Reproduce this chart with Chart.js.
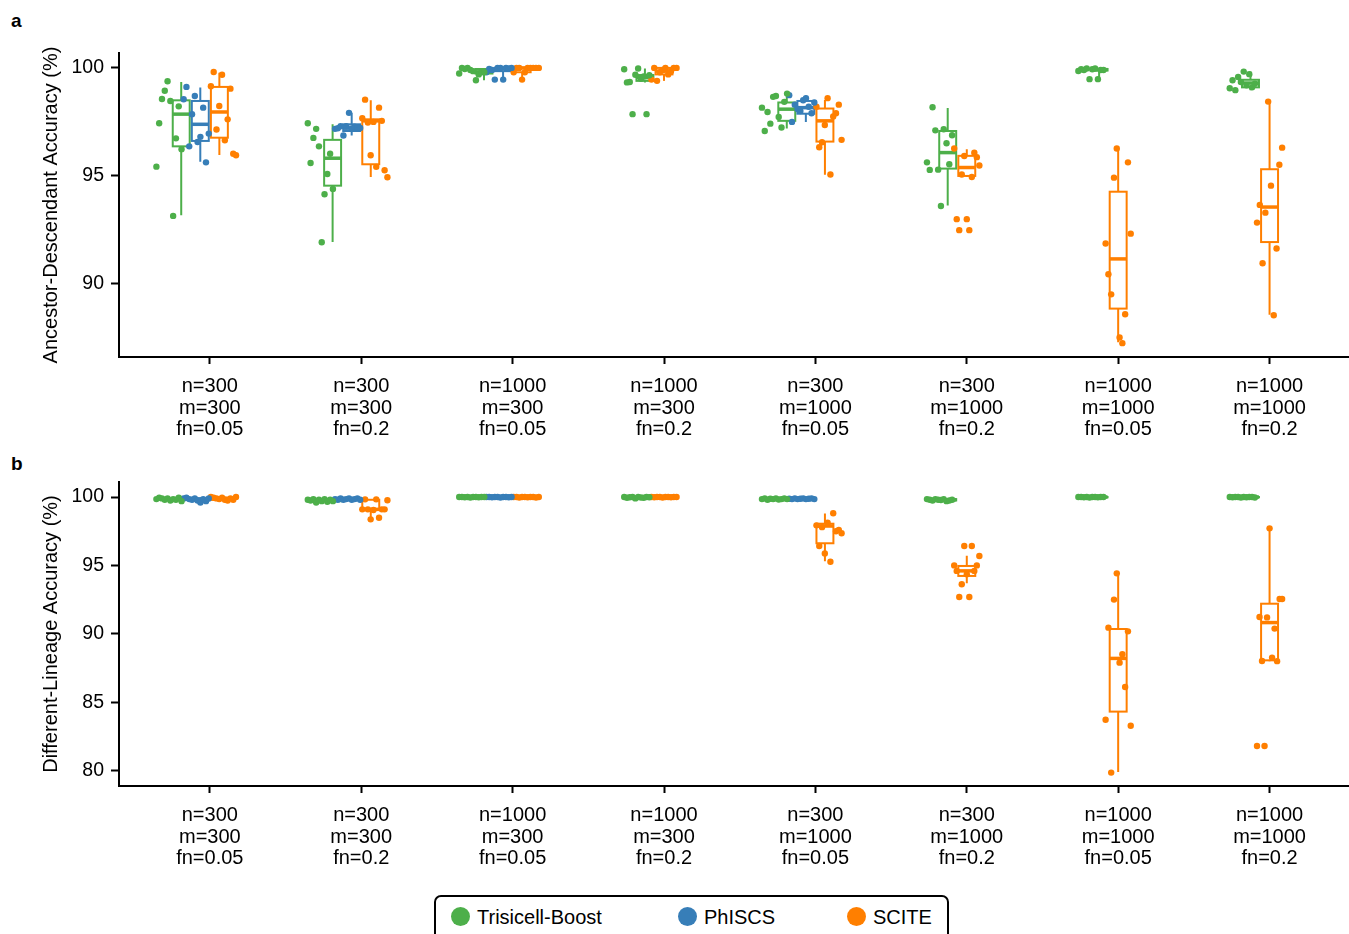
<!DOCTYPE html>
<html><head><meta charset="utf-8">
<script src="https://cdn.jsdelivr.net/npm/chart.js@4.4.1/dist/chart.umd.min.js"></script>
<style>
body{margin:0;background:#fff;width:1349px;height:934px;overflow:hidden;position:relative;font-family:"Liberation Sans",Arial,Helvetica,sans-serif;}
.wrap{position:absolute;left:0;width:1353px;}
#wa{top:0;height:450px;}
#wb{top:440px;height:440px;}
.panel{position:absolute;left:11px;font-weight:bold;font-size:19px;line-height:1;}
#legend{position:absolute;left:434px;top:895px;width:515px;height:52px;border:2px solid #000;border-radius:7px;box-sizing:border-box;}
.li{position:absolute;top:10px;font-size:20px;line-height:20px;white-space:nowrap;}
.dot{display:inline-block;width:19px;height:19px;border-radius:50%;vertical-align:top;margin-right:7px;margin-top:0px;}
</style></head>
<body>
<div class="panel" style="top:11px;">a</div>
<div class="panel" style="top:454px;">b</div>
<div class="wrap" id="wa"><canvas id="ca" width="1353" height="450"></canvas></div>
<div class="wrap" id="wb"><canvas id="cb" width="1353" height="440"></canvas></div>
<div id="legend">
  <div class="li" style="left:15px;"><span class="dot" style="background:#4daf4a"></span>Trisicell-Boost</div>
  <div class="li" style="left:242px;"><span class="dot" style="background:#377eb8"></span>PhISCS</div>
  <div class="li" style="left:411px;"><span class="dot" style="background:#ff7f00"></span>SCITE</div>
</div>
<script>
// ---------- DATA ----------
const categories = [
  ["n=300","m=300","fn=0.05"], ["n=300","m=300","fn=0.2"],
  ["n=1000","m=300","fn=0.05"], ["n=1000","m=300","fn=0.2"],
  ["n=300","m=1000","fn=0.05"], ["n=300","m=1000","fn=0.2"],
  ["n=1000","m=1000","fn=0.05"], ["n=1000","m=1000","fn=0.2"]
];
const methods = ["Trisicell-Boost","PhISCS","SCITE"];
const adTicks = [90, 95, 100];
const dlTicks = [80, 85, 90, 95, 100];

// Panel a: Ancestor-Descendant accuracy (points, left-to-right order)
const adTrisicell = [
  [95.43,97.44,98.56,98.94,99.38,98.47,93.15,96.74,98.22,96.24],
  [97.44,95.60,96.76,97.18,96.37,91.93,94.15,95.09,96.03,94.40],
  [99.74,100.0,99.95,100.0,99.9,99.85,99.43,99.7,99.8,99.8],
  [99.94,99.33,99.35,97.86,99.68,99.97,99.5,99.6,97.86,99.66],
  [98.16,97.08,97.96,97.42,98.66,98.7,97.73,97.24,98.43,98.81],
  [95.63,95.28,98.18,97.11,95.29,93.61,97.16,96.51,95.54,96.88],
  [99.86,99.94,99.9,99.97,99.48,99.94,99.97,99.48,99.9,99.9],
  [99.06,99.43,98.97,99.58,99.35,99.83,99.2,99.71,99.1,99.27]
];
const adPhiscs = [
  [98.55,99.12,96.37,97.86,98.70,96.57,96.81,98.16,95.63,96.96],
  [97.18,97.21,97.3,96.87,97.3,97.92,97.2,97.28,97.25,97.22],
  [99.8,99.95,99.9,99.46,100.0,100.0,99.46,100.0,99.97,100.0],
  null,
  [98.74,97.5,98.3,98.1,98.0,98.5,98.6,98.2,97.9,98.4],
  null, null, null
];
const adScite = [
  [99.15,99.81,97.15,98.24,99.68,96.65,97.62,99.04,96.03,95.96],
  [97.67,98.53,97.47,95.96,97.5,95.42,98.16,97.55,95.26,94.94],
  [99.8,100.0,100.0,99.46,99.8,100.0,100.0,100.0,100.0,100.0],
  [99.46,100.0,99.4,99.8,99.9,100.0,99.7,99.85,100.0,100.0],
  [98.2,96.33,96.56,97.36,98.6,95.07,97.75,97.9,98.3,96.67],
  [96.27,93.0,92.49,95.07,95.92,93.0,92.49,94.95,96.07,95.87,95.48],
  [91.87,90.45,89.52,94.92,96.27,87.52,87.26,88.6,95.63,92.33],
  [92.84,93.66,90.96,93.3,98.44,94.55,88.55,91.64,95.52,96.31]
];
// box stats: [lower whisker, q1, median, q3, upper whisker]
const adBoxTrisicell = [
  [93.18,96.37,97.86,98.5,99.35],[91.94,94.55,95.82,96.67,97.39],
  [99.43,99.74,99.82,99.95,100],[99.33,99.4,99.55,99.67,99.97],
  [97.2,97.55,98.09,98.4,98.77],[93.63,95.34,96.08,97.08,98.14],
  [99.48,99.88,99.92,99.95,99.97],[98.97,99.1,99.3,99.45,99.83]
];
const adBoxPhiscs = [
  [95.66,96.62,97.39,98.47,99.09],[96.87,97.08,97.21,97.39,97.92],
  [99.46,99.85,99.97,100,100],null,
  [97.5,97.88,98.16,98.47,98.72],null,null,null
];
const adBoxScite = [
  [95.97,96.77,97.96,99.12,99.78],[94.95,95.54,97.55,97.62,98.5],
  [99.46,99.8,100,100,100],[99.4,99.7,99.85,100,100],
  [95.05,96.59,97.55,98.12,98.52],[94.95,95.0,95.39,95.93,96.24],
  [87.3,88.86,91.16,94.27,96.27],[88.57,91.94,93.56,95.31,98.44]
];

// Panel b: Different-Lineage accuracy
const dlTrisicell = [
  [99.85,99.95,99.9,99.8,99.9,99.75,99.85,99.8,99.95,99.7],
  [99.8,99.75,99.85,99.6,99.8,99.7,99.85,99.65,99.8,99.7],
  [100,100,99.98,100,99.97,100,100,99.98,100,100],
  [100,99.95,99.98,100,99.9,100,99.97,99.95,100,99.98],
  [99.85,99.9,99.8,99.88,99.85,99.9,99.82,99.85,99.9,99.85],
  [99.85,99.8,99.75,99.85,99.8,99.78,99.85,99.7,99.75,99.8],
  [100,100,99.98,100,99.97,100,100,99.98,100,100],
  [100,99.98,100,100,99.97,100,99.98,100,100,99.97]
];
const dlPhiscs = [
  [99.9,99.95,99.85,99.8,99.9,99.75,99.6,99.85,99.7,99.9],
  [99.85,99.8,99.9,99.8,99.85,99.9,99.8,99.85,99.9,99.8],
  [100,100,99.98,100,100,99.97,100,100,99.98,100],
  null,
  [99.88,99.85,99.9,99.85,99.88,99.9,99.85,99.88,99.9,99.85],
  null, null, null
];
const dlScite = [
  [100,99.95,99.9,99.85,99.95,99.8,99.75,99.9,99.8,100],
  [99.1,99.83,99.1,98.37,99.05,99.83,98.49,99.1,99.1,99.76],
  [100,100,99.97,100,100,99.98,100,100,99.97,100],
  [100,99.98,100,100,99.97,100,100,99.98,100,100],
  [97.93,96.42,97.8,95.88,98.12,95.27,98.81,97.5,97.6,97.35],
  [95.0,94.6,92.69,93.62,96.42,94.35,92.69,96.42,94.6,95.0,95.69],
  [83.72,90.45,79.85,92.5,94.42,87.89,88.5,86.11,90.18,83.28],
  [81.8,91.23,88.01,81.8,91.2,97.71,88.26,90.38,88.0,92.54,92.54]
];
const dlBoxTrisicell = [
  [99.7,99.8,99.85,99.9,99.95],[99.6,99.7,99.78,99.8,99.85],
  [99.97,99.98,100,100,100],[99.9,99.95,99.98,100,100],
  [99.8,99.85,99.85,99.9,99.9],[99.7,99.75,99.8,99.85,99.85],
  [99.97,99.98,100,100,100],[99.97,99.98,100,100,100]
];
const dlBoxPhiscs = [
  [99.6,99.75,99.85,99.9,99.95],[99.8,99.8,99.85,99.9,99.9],
  [99.97,99.98,100,100,100],null,
  [99.85,99.85,99.88,99.9,99.9],null,null,null
];
const dlBoxScite = [
  [99.75,99.8,99.9,99.95,100],[98.37,99.1,99.1,99.8,99.83],
  [99.97,99.98,100,100,100],[99.97,99.98,100,100,100],
  [95.3,96.62,97.88,98.05,98.79],[93.7,94.23,94.6,94.96,95.7],
  [79.9,84.31,88.2,90.35,94.42],[88.0,88.06,90.82,92.2,97.7]
];

// ---------- STYLE ----------
const colors = ["#4daf4a","#377eb8","#ff7f00"];
const FONT = "'Liberation Sans', Arial, Helvetica, sans-serif";
Chart.defaults.color = "#000";
Chart.defaults.font.family = FONT;

function slotOffsets(seriesList, g){
  const idx = [];
  seriesList.forEach((s,i)=>{ if (s[g]) idx.push(i); });
  const n = idx.length, res = [null,null,null];
  idx.forEach((m,k)=>{ res[m] = (k-(n-1))*0.18 + (n===3?0.09:0); });
  return res;
}

function makeChart(canvasId, pts, boxes, ticksY, yMin, yMax, title, padTop, xHeight){
  const J = 0.083;
  const datasets = pts.map((series, m) => {
    const data = [];
    series.forEach((vals, g) => {
      if (!vals) return;
      const off = slotOffsets(pts, g)[m];
      const n = vals.length;
      vals.forEach((v, i) => {
        data.push({x: g + off - J + 2*J*i/(n-1), y: v});
      });
    });
    return {label: methods[m], data, backgroundColor: colors[m], borderWidth: 0,
            pointRadius: 3.2, pointHoverRadius: 3.2};
  });
  const boxPlugin = {
    id: 'box_' + canvasId,
    beforeDatasetsDraw(chart){
      const {ctx, scales: {x, y}} = chart;
      ctx.save();
      boxes.forEach((series, m) => {
        series.forEach((b, g) => {
          if (!b) return;
          const off = slotOffsets(pts, g)[m] * 0.7;
          const cx = x.getPixelForValue(g + off);
          const hw = x.getPixelForValue(g + off + 0.056) - cx;
          const [lo, q1, med, q3, hi] = b.map(v => y.getPixelForValue(v));
          ctx.strokeStyle = colors[m];
          ctx.lineWidth = 2;
          ctx.beginPath();
          ctx.moveTo(cx, q3); ctx.lineTo(cx, hi);
          ctx.moveTo(cx, q1); ctx.lineTo(cx, lo);
          ctx.stroke();
          ctx.strokeRect(cx - hw, q3, 2*hw, q1 - q3);
          ctx.lineWidth = 3.5;
          ctx.beginPath();
          ctx.moveTo(cx - hw, med); ctx.lineTo(cx + hw, med);
          ctx.stroke();
        });
      });
      ctx.restore();
    }
  };
  return new Chart(document.getElementById(canvasId), {
    type: 'scatter',
    data: {datasets},
    plugins: [boxPlugin],
    options: {
      responsive: false, animation: false,
      layout: {padding: {top: padTop, left: 0, right: 0, bottom: 0}},
      plugins: {legend: {display: false}, tooltip: {enabled: false}},
      scales: {
        x: {
          type: 'linear', min: -0.6, max: 7.53,
          afterBuildTicks: s => { s.ticks = categories.map((c, i) => ({value: i})); },
          afterFit: s => { s.height = xHeight; },
          ticks: {callback: (v, i) => categories[i], font: {size: 20, family: FONT, lineHeight: 1.075},
                  color: '#000', padding: 12, maxRotation: 0, autoSkip: false},
          grid: {drawOnChartArea: false, drawTicks: true, tickLength: 7, tickColor: '#000', tickWidth: 2},
          border: {display: true, color: '#000', width: 2}
        },
        y: {
          min: yMin, max: yMax,
          afterBuildTicks: s => { s.ticks = ticksY.map(v => ({value: v})); },
          afterFit: s => { s.width = 119; },
          ticks: {font: {size: 19.5, family: FONT}, color: '#000', padding: 7},
          grid: {drawOnChartArea: false, drawTicks: true, tickLength: 8, tickColor: '#000', tickWidth: 2},
          border: {display: true, color: '#000', width: 2},
          title: {display: true, text: title, font: {size: 20, family: FONT}, color: '#000',
                  padding: {top: 39, bottom: 0}}
        }
      }
    }
  });
}

makeChart('ca', [adTrisicell, adPhiscs, adScite], [adBoxTrisicell, adBoxPhiscs, adBoxScite],
          adTicks, 86.62, 100.69, 'Ancestor-Descendant Accuracy (%)', 53, 93);
makeChart('cb', [dlTrisicell, dlPhiscs, dlScite], [dlBoxTrisicell, dlBoxPhiscs, dlBoxScite],
          dlTicks, 78.87, 101.1, 'Different-Lineage Accuracy (%)', 42, 94);
</script>
</body></html>
